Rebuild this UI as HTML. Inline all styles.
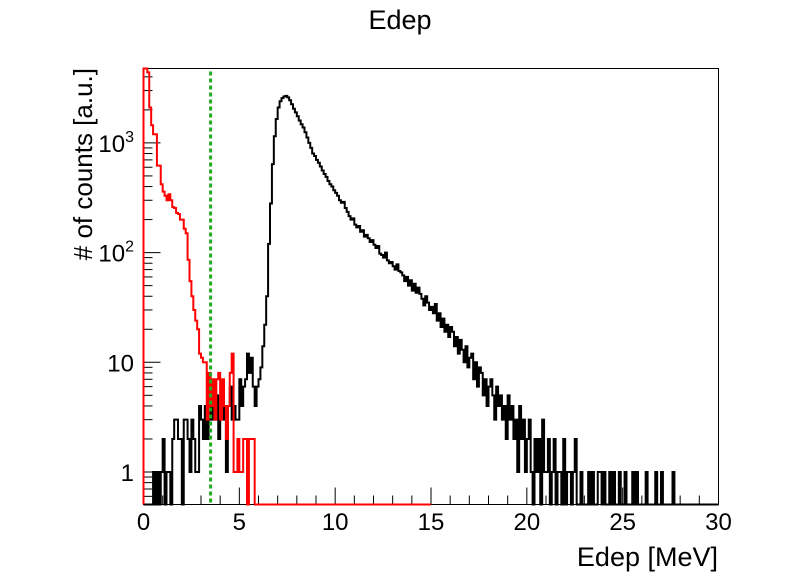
<!DOCTYPE html>
<html><head><meta charset="utf-8"><style>
html,body{margin:0;padding:0;background:#fff;}
svg{display:block;font-family:"Liberation Sans",Arial,sans-serif;}
</style></head><body>
<svg id="chart" width="798" height="574" viewBox="0 0 798 574" xmlns="http://www.w3.org/2000/svg">
<rect x="0" y="0" width="798" height="574" fill="#fff"/>
<text x="400" y="29" font-size="27" text-anchor="middle">Edep</text>
<rect x="143.5" y="68.5" width="575" height="436" fill="none" stroke="#000" stroke-width="1"/>
<g id="axes"></g>
<g id="marks"></g>
<text x="718" y="566" font-size="27" text-anchor="end">Edep [MeV]</text>
<text transform="translate(92,68) rotate(-90)" font-size="26" text-anchor="end"># of counts [a.u.]</text>
</svg>
<script>
const binWidth = 0.1;
const blackCounts = [
0,0,0,0,0,1,0,1,0,1,
2,0,1,1,0,2,3,3,2,2,
0,3,3,2,1,3,2,1,1,4,
3,2,4,2,5,3,4,3,5,2,
3,5,3,1,4,6,3,4,3,3,
7,4,6,7,12,8,11,6,4,6,
7,9,14,22,40,120,280,640,1150,1650,
2100,2400,2560,2650,2680,2600,2450,2250,2050,1900,
1750,1600,1480,1380,1250,1120,1000,900,800,760,
700,660,610,560,520,490,450,420,400,370,
350,330,300,285,290,255,235,215,200,205,
180,170,175,155,160,140,145,135,125,130,
118,110,115,98,95,90,100,85,80,82,
75,70,78,68,66,62,55,60,50,56,
45,52,43,48,42,38,33,40,35,30,
32,28,34,24,28,21,25,19,22,17,
21,19,14,17,12,16,13,10,14,9,
11,12,7,10,6,9,8,5,7,4,
6,7,5,3,6,4,5,3,4,2,
5,3,4,2,3,1,4,2,3,1,
2,3,1,0,2,1,2,0,3,1,
1,2,0,1,2,0,1,1,0,2,
0,1,1,0,1,2,0,0,1,0,
0,0,1,0,1,0,0,1,1,0,
1,0,0,1,0,1,0,0,1,0,
0,1,0,0,0,1,0,1,0,0,
0,0,1,0,0,0,0,1,0,0,
1,0,0,0,0,0,1,0,0,0,
0,0,0,0,0,0,0,0,0,0,
0,0,0,0,0,0,0,0,0,0];
const redCounts = [
6000,5000,4400,2100,1450,1200,1200,620,620,420,
360,330,300,340,300,260,255,230,225,200,
200,165,150,86,55,40,30,24,20,12,
11,10,10,3,8,4,7,3,7,8,
3,7,4,2,4,8,12,1,1,2,
1,1,2,2,0,2,2,2,0,0,
0,0,0,0,0,0,0,0,0,0,
0,0,0,0,0,0,0,0,0,0,
0,0,0,0,0,0,0,0,0,0,
0,0,0,0,0,0,0,0,0,0,
0,0,0,0,0,0,0,0,0,0,
0,0,0,0,0,0,0,0,0,0,
0,0,0,0,0,0,0,0,0,0,
0,0,0,0,0,0,0,0,0,0,
0,0,0,0,0,0,0,0,0,0];
const cutValue = [3.5];
const xTicks = [0,5,10,15,20,25,30];
const yDecades = [1,10,100,1000];

const X0=143.5, X1=718.5, Y0=504.5, Y1=68.5;
const xMin=0, xMax=30;
const yOne=472, pxDec=109.7;
function xs(v){return X0+(v-xMin)/(xMax-xMin)*(X1-X0);}
function ys(v){ if(v<=0) return Y0; let y=yOne-Math.log10(v)*pxDec; return Math.max(Y1,Math.min(Y0,y)); }
const NS="http://www.w3.org/2000/svg";
const marks=document.getElementById('marks'), axes=document.getElementById('axes');
function mk(tag,attrs,parent){const e=document.createElementNS(NS,tag);for(const k in attrs)e.setAttribute(k,attrs[k]);parent.appendChild(e);return e;}

function histPath(arr){
  let d="M"+xs(0)+","+Y0;
  for(let i=0;i<arr.length;i++){
    const y=ys(arr[i]);
    d+=" L"+xs(i*binWidth)+","+y+" L"+xs((i+1)*binWidth)+","+y;
  }
  return d;
}
const pb=mk('path',{d:histPath(blackCounts),fill:'none',stroke:'#000','stroke-width':2},marks);


const pr=mk('path',{d:histPath(redCounts),fill:'none',stroke:'#ff0000','stroke-width':2},marks);


const cl=mk('line',{x1:xs(cutValue[0]),x2:xs(cutValue[0]),y1:Y1+3,y2:Y0,stroke:'#22aa22','stroke-width':3,'stroke-dasharray':'4,3'},marks);



for(let v=0;v<=30;v++){
  const major=v%5===0;
  const t=mk('line',{x1:xs(v),x2:xs(v),y1:Y0,y2:Y0-(major?17:9),stroke:'#000','stroke-width':1},axes);
  
  
}
xTicks.forEach(v=>{
  const t=mk('text',{x:xs(v),y:530,'font-size':24,'text-anchor':'middle'},axes);
  t.textContent=String(v);
  
  
});
for(let dec=0.1;dec<=1000;dec*=10){
  for(let m=1;m<=9;m++){
    const v=dec*m; const y=yOne-Math.log10(v)*pxDec;
    if(y>Y0||y<Y1) continue;
    const t=mk('line',{x1:X0,x2:X0+(m===1?17:9),y1:y,y2:y,stroke:'#000','stroke-width':1},axes);
    
    
  }
}
yDecades.forEach(v=>{
  const y=yOne-Math.log10(v)*pxDec;
  const t=mk('text',{x:134,y:y+9,'font-size':24,'text-anchor':'end'},axes);
  
  
  if(v>=100){
    t.textContent='10';
    const s=mk('tspan',{dy:-10,'font-size':16},t);
    s.textContent=String(Math.round(Math.log10(v)));
  } else t.textContent=String(v);
});
</script>
</body></html>
